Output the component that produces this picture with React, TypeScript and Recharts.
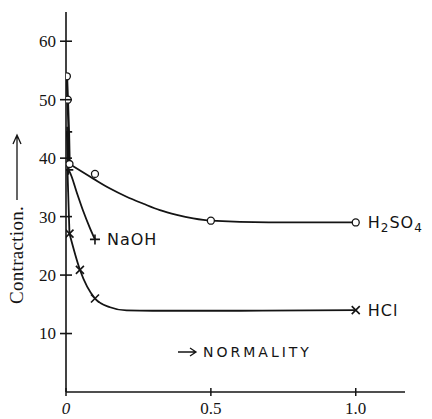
import { ComposedChart, Line, Scatter, XAxis, YAxis, ReferenceDot } from 'recharts';

// normality vs contraction
const h2so4Stem = [{ x: 0.003, y: 54 }, { x: 0.006, y: 50 }, { x: 0.01, y: 44 }, { x: 0.012, y: 39 }];
const h2so4Curve = [
  { x: 0.012, y: 39 }, { x: 0.094, y: 36.5 }, { x: 0.152, y: 34.8 },
  { x: 0.209, y: 33.4 }, { x: 0.267, y: 32.2 }, { x: 0.324, y: 31.1 }, { x: 0.382, y: 30.3 },
  { x: 0.439, y: 29.7 }, { x: 0.5, y: 29.3 }, { x: 0.7, y: 29.0 }, { x: 1.0, y: 29.0 },
];
const h2so4Points = [
  { x: 0.003, y: 54 }, { x: 0.006, y: 50 }, { x: 0.012, y: 39 }, { x: 0.1, y: 37.3 },
  { x: 0.5, y: 29.3 }, { x: 1.0, y: 29.0 },
];
const naohStem = [{ x: 0.004, y: 44.5 }, { x: 0.008, y: 38 }];
const naohCurve = [
  { x: 0.008, y: 38 }, { x: 0.013, y: 37.6 }, { x: 0.038, y: 34 }, { x: 0.059, y: 31 },
  { x: 0.083, y: 28.0 }, { x: 0.1, y: 26.1 },
];
const naohPoints = [{ x: 0.004, y: 44.5 }, { x: 0.008, y: 38 }, { x: 0.1, y: 26.1 }];
const hclStem = [{ x: 0.005, y: 38 }, { x: 0.012, y: 27.1 }];
const hclCurve = [
  { x: 0.012, y: 27.1 }, { x: 0.048, y: 20.9 }, { x: 0.1, y: 16.0 }, { x: 0.152, y: 14.5 },
  { x: 0.209, y: 13.95 }, { x: 0.3, y: 13.9 }, { x: 0.6, y: 13.9 }, { x: 1.0, y: 14.0 },
];
const hclPoints = [{ x: 0.012, y: 27.1 }, { x: 0.048, y: 20.9 }, { x: 0.1, y: 16.0 }, { x: 1.0, y: 14.0 }];
const yTicks = [10, 20, 30, 40, 50, 60];
const xTicks = [0, 0.5, 1.0];
const xTickLabels = ['0', '0.5', '1.0'];

const ink = '#141414';
const serif = '"Liberation Serif", "DejaVu Serif", serif';
const hand = '"DejaVu Sans", sans-serif';

const Circle = (p: any) => <circle cx={p.cx} cy={p.cy} r={3.5} fill="#fff" stroke={ink} strokeWidth={1.3} />;
const Plus = (p: any) => (
  <path d={`M${p.cx - 5},${p.cy}H${p.cx + 5}M${p.cx},${p.cy - 5}V${p.cy + 5}`} stroke={ink} strokeWidth={1.6} />
);
const Cross = (p: any) => (
  <path d={`M${p.cx - 4},${p.cy - 4}L${p.cx + 4},${p.cy + 4}M${p.cx - 4},${p.cy + 4}L${p.cx + 4},${p.cy - 4}`} stroke={ink} strokeWidth={1.6} />
);

const YTick = (p: any) => (
  <g>
    <line x1={p.x + 4} x2={p.x + 16} y1={p.y} y2={p.y} stroke={ink} strokeWidth={1.6} />
    <text x={p.x} y={p.y} dy="0.35em" textAnchor="end" fontFamily={serif} fontSize={17} fill={ink}>{p.payload.value}</text>
  </g>
);
const XTick = (p: any) => (
  <g>
    <line x1={p.x} x2={p.x} y1={p.y - 12} y2={p.y - 4} stroke={ink} strokeWidth={1.5} />
    <text x={p.x} y={p.y} dy="0.8em" textAnchor="middle" fontFamily={serif} fontSize={17} fill={ink}
      fontStyle={p.index === 0 ? 'italic' : 'normal'}>{xTickLabels[p.index]}</text>
  </g>
);

const seriesLabel = (parts: { t: string; sub?: boolean }[]) => (p: any) => {
  const x = p.viewBox.x;
  const y = p.viewBox.y;
  return (
    <text x={x + 12} y={y} dy="0.35em" fontFamily={hand} fontSize={16} letterSpacing={1} fill={ink}>
      {parts.map((s, i) => (
        <tspan key={i} dy={s.sub ? 4 : i > 0 && parts[i - 1].sub ? -4 : undefined} fontSize={s.sub ? 12 : 16}>{s.t}</tspan>
      ))}
    </text>
  );
};

const lineProps = { dataKey: 'y', type: 'monotone' as const, stroke: ink, strokeWidth: 1.8, dot: false, isAnimationActive: false };

export default function App() {
  return (
    <div style={{ position: 'absolute', left: 0, top: 0, width: 432, height: 419, background: '#fff' }}>
      <ComposedChart width={432} height={419} margin={{ top: 12, right: 27, bottom: 7, left: 36 }}>
        <XAxis type="number" dataKey="x" domain={[0, 1.17]} ticks={xTicks} allowDataOverflow
          height={20} tickSize={0} tickMargin={8} tick={<XTick />} axisLine={{ stroke: ink, strokeWidth: 1.6 }} />
        <YAxis type="number" dataKey="y" domain={[0, 65]} ticks={yTicks} allowDataOverflow
          width={30} tickSize={0} tickMargin={10} tick={<YTick />} axisLine={{ stroke: ink, strokeWidth: 1.6 }} />
        <Line data={h2so4Stem} {...lineProps} type="linear" strokeWidth={2.4} />
        <Line data={h2so4Curve} {...lineProps} />
        <Line data={naohStem} {...lineProps} type="linear" strokeWidth={2.4} />
        <Line data={naohCurve} {...lineProps} />
        <Line data={hclStem} {...lineProps} type="linear" />
        <Line data={hclCurve} {...lineProps} />
        <Scatter data={naohPoints} dataKey="y" shape={<Plus />} isAnimationActive={false} />
        <Scatter data={hclPoints} dataKey="y" shape={<Cross />} isAnimationActive={false} />
        <Scatter data={h2so4Points} dataKey="y" shape={<Circle />} isAnimationActive={false} />
        <ReferenceDot x={1.0} y={29} r={0} stroke="none"
          label={{ content: seriesLabel([{ t: 'H' }, { t: '2', sub: true }, { t: 'SO' }, { t: '4', sub: true }]) }} />
        <ReferenceDot x={0.1} y={26.1} r={0} stroke="none" label={{ content: seriesLabel([{ t: 'NaOH' }]) }} />
        <ReferenceDot x={1.0} y={14} r={0} stroke="none" label={{ content: seriesLabel([{ t: 'HCl' }]) }} />
      </ComposedChart>
      <svg width={432} height={419} style={{ position: 'absolute', left: 0, top: 0, pointerEvents: 'none' }}>
        <text transform="translate(23,304) rotate(-90)" fontFamily={serif} fontSize={19} letterSpacing={0.3} fill={ink}>Contraction.</text>
        <path d="M17,200V136M13,144L17,135L21,144" fill="none" stroke={ink} strokeWidth={1.3} />
        <path d="M178,352H195M190,348L196,352L190,356" fill="none" stroke={ink} strokeWidth={1.3} />
        <text x={203} y={352} dy="0.35em" fontFamily={hand} fontSize={14} letterSpacing={3} fill={ink}>NORMALITY</text>
      </svg>
    </div>
  );
}
